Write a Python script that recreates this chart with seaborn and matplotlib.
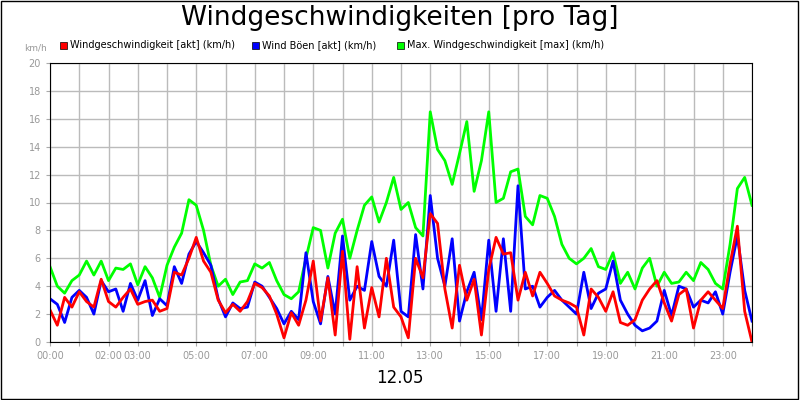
import numpy as np
import pandas as pd
import seaborn as sns
import matplotlib.pyplot as plt

# 15-minute readings, 00:00 .. 24:00
akt = [2.3, 1.2, 3.2, 2.5, 3.6, 2.9, 2.5, 4.5, 2.9, 2.5, 3.2, 3.8, 2.7, 2.9, 3.0, 2.2,
       2.4, 5.0, 4.8, 6.0, 7.5, 5.8, 5.0, 3.0, 2.1, 2.7, 2.2, 2.9, 4.2, 3.9, 3.3, 2.0,
       0.3, 2.1, 1.2, 3.0, 5.8, 1.5, 4.6, 0.5, 6.5, 0.2, 5.4, 1.0, 3.9, 1.8, 6.0, 2.5,
       1.8, 0.3, 6.0, 4.6, 9.2, 8.5, 3.8, 1.0, 5.5, 3.0, 4.5, 0.5, 5.2, 7.5, 6.3, 6.4,
       3.0, 5.0, 3.3, 5.0, 4.2, 3.3, 3.0, 2.8, 2.5, 0.5, 3.8, 3.2, 2.2, 3.6, 1.4, 1.2,
       1.6, 3.0, 3.8, 4.4, 2.8, 1.5, 3.4, 3.8, 1.0, 3.0, 3.6, 3.0, 2.4, 5.6, 8.3, 2.2, 0.0]
boeen = [3.1, 2.7, 1.4, 3.2, 3.7, 3.2, 2.0, 4.4, 3.6, 3.8, 2.2, 4.2, 3.0, 4.4, 1.9, 3.1,
         2.6, 5.4, 4.2, 6.3, 7.2, 6.4, 5.5, 3.1, 1.8, 2.8, 2.4, 2.5, 4.3, 4.0, 3.2, 2.4,
         1.3, 2.2, 1.6, 6.4, 2.9, 1.3, 4.7, 2.0, 7.6, 3.0, 4.0, 3.7, 7.2, 4.7, 4.0, 7.3,
         2.2, 1.8, 7.7, 3.8, 10.5, 6.0, 4.0, 7.4, 1.5, 3.6, 5.0, 1.6, 7.3, 2.2, 7.4, 2.2,
         11.2, 3.8, 4.0, 2.5, 3.2, 3.7, 3.0, 2.5, 2.0, 5.0, 2.4, 3.5, 3.8, 5.8, 3.0, 2.0,
         1.2, 0.8, 1.0, 1.5, 3.7, 1.9, 4.0, 3.8, 2.5, 3.0, 2.8, 3.6, 2.0, 5.0, 7.6, 3.7, 1.5]
maxw = [5.4, 4.0, 3.5, 4.4, 4.8, 5.8, 4.8, 5.8, 4.4, 5.3, 5.2, 5.6, 4.1, 5.4, 4.6, 3.2,
        5.5, 6.8, 7.8, 10.2, 9.8, 8.0, 5.5, 4.0, 4.5, 3.4, 4.3, 4.4, 5.6, 5.3, 5.7, 4.4,
        3.4, 3.1, 3.6, 6.0, 8.2, 8.0, 5.3, 7.8, 8.8, 6.0, 8.0, 9.8, 10.4, 8.6, 10.0, 11.8,
        9.5, 10.0, 8.2, 7.6, 16.5, 13.8, 13.0, 11.3, 13.5, 15.8, 10.8, 13.0, 16.5, 10.0, 10.3, 12.2,
        12.4, 9.0, 8.4, 10.5, 10.3, 9.0, 7.0, 6.0, 5.6, 6.0, 6.7, 5.4, 5.2, 6.4, 4.2, 5.0,
        3.8, 5.3, 6.0, 4.0, 5.0, 4.2, 4.3, 5.0, 4.4, 5.7, 5.2, 4.2, 3.8, 7.0, 11.0, 11.8, 9.8]
hours = np.arange(len(akt)) * 0.25

series = {
    "Max. Windgeschwindigkeit [max] (km/h)": maxw,
    "Wind Böen [akt] (km/h)": boeen,
    "Windgeschwindigkeit [akt] (km/h)": akt,
}
colors = {
    "Windgeschwindigkeit [akt] (km/h)": "#ff0000",
    "Wind Böen [akt] (km/h)": "#0000ff",
    "Max. Windgeschwindigkeit [max] (km/h)": "#00ff00",
}
df = pd.concat([pd.DataFrame({"h": hours, "v": v, "s": k}) for k, v in series.items()])

fig = plt.figure(figsize=(8, 4), dpi=100)
ax = fig.add_axes([50 / 800, 58 / 400, 702 / 800, 279 / 400])
sns.lineplot(data=df, x="h", y="v", hue="s", palette=colors, linewidth=2, ax=ax, legend=False)

ax.set_xlim(0, 24)
ax.set_ylim(0, 20)
ax.set_yticks(range(0, 21, 2))
ax.set_xticks(range(0, 25))
tick_lbl = {0: "00:00", 2: "02:00", 3: "03:00", 5: "05:00", 7: "07:00", 9: "09:00", 11: "11:00",
            13: "13:00", 15: "15:00", 17: "17:00", 19: "19:00", 21: "21:00", 23: "23:00"}
ax.set_xticklabels([tick_lbl.get(h, "") for h in range(25)])
ax.tick_params(labelsize=7, colors="#aaaaaa", labelcolor="#999999", length=3)
ax.grid(True, color="#bbbbbb", linewidth=1)
ax.set_axisbelow(True)
ax.set_xlabel("")
ax.set_ylabel("")
for sp in ax.spines.values():
    sp.set_color("black")

fig.text(0.5, 0.955, "Windgeschwindigkeiten [pro Tag]", ha="center", va="center", fontsize=19)
fig.text(0.03, 0.88, "km/h", ha="left", va="center", fontsize=6.5, color="#999999")
fig.text(0.5, 0.055, "12.05", ha="center", va="center", fontsize=12)

leg_x = [60, 252, 397]
for x, name in zip(leg_x, ["Windgeschwindigkeit [akt] (km/h)", "Wind Böen [akt] (km/h)",
                           "Max. Windgeschwindigkeit [max] (km/h)"]):
    fig.patches.append(plt.Rectangle((x / 800, 0.878), 7 / 800, 7 / 400, transform=fig.transFigure,
                                     facecolor=colors[name], edgecolor="black", linewidth=0.5))
    fig.text((x + 10) / 800, 0.888, name, ha="left", va="center", fontsize=7)

fig.patches.append(plt.Rectangle((0.001, 0.002), 0.997, 0.996, transform=fig.transFigure,
                                 fill=False, edgecolor="black", linewidth=1))
fig.savefig("out.png", dpi=100)
